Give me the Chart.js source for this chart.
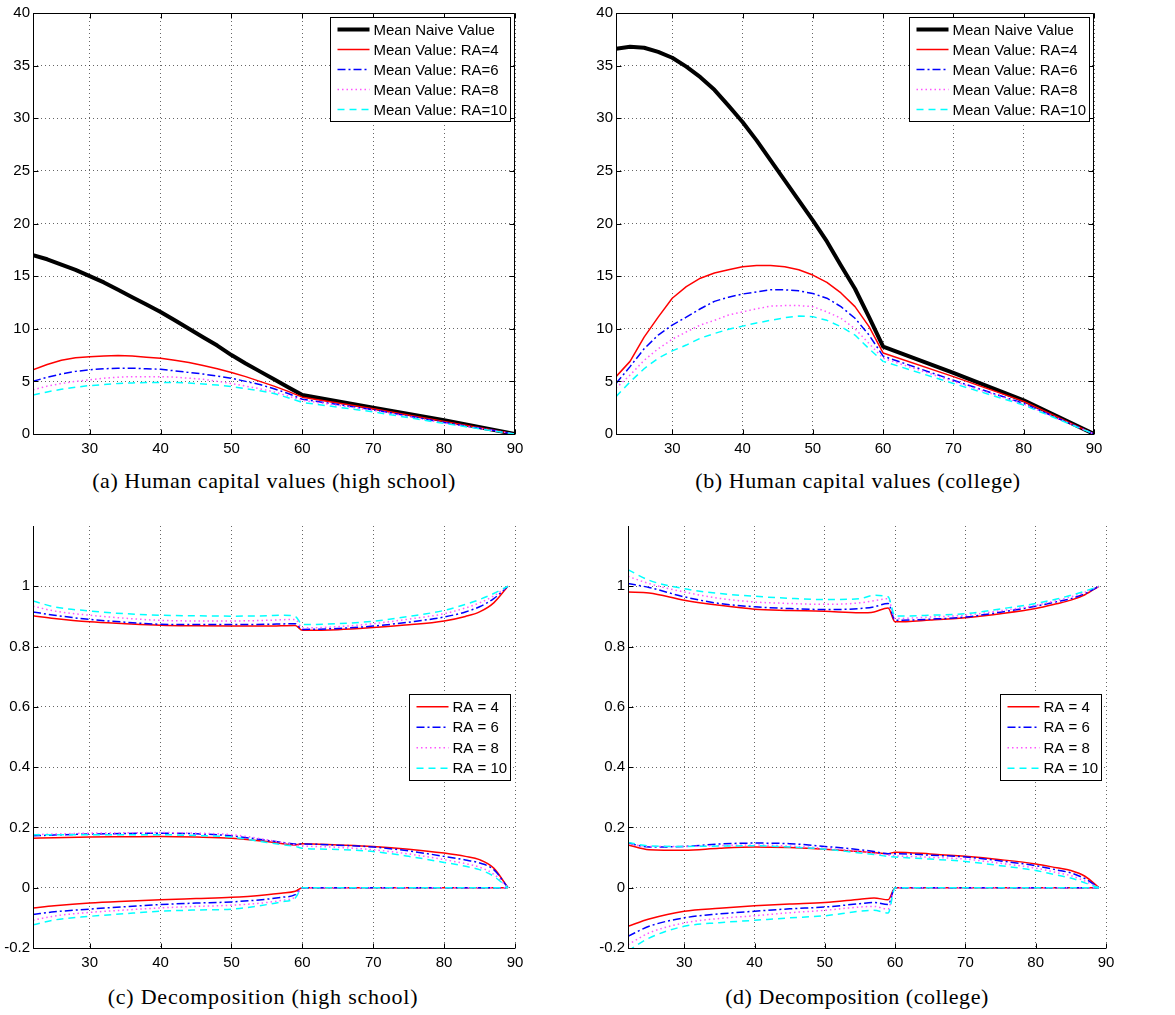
<!DOCTYPE html>
<html>
<head>
<meta charset="utf-8">
<script src="https://cdn.jsdelivr.net/npm/chart.js@4.4.1/dist/chart.umd.min.js"></script>
<style>
  body { margin: 0; background: #fff; width: 1175px; height: 1015px; position: relative; overflow: hidden; }
  canvas { position: absolute; }
  .cap { position: absolute; font-family: "Liberation Serif", "Times New Roman", serif; font-size: 22px;
         line-height: 24px; white-space: nowrap; transform: translateX(-50%); color: #000; }
</style>
</head>
<body>
<canvas id="chartA" width="545" height="460" style="left:0px;top:0px"></canvas>
<canvas id="chartB" width="550" height="460" style="left:580px;top:0px"></canvas>
<canvas id="chartC" width="545" height="480" style="left:0px;top:500px"></canvas>
<canvas id="chartD" width="550" height="480" style="left:590px;top:500px"></canvas>
<div class="cap" data-w="363" style="left:274px;top:469px">(a) Human capital values (high school)</div>
<div class="cap" data-w="325" style="left:858px;top:469px">(b) Human capital values (college)</div>
<div class="cap" data-w="310" style="left:263px;top:985px">(c) Decomposition (high school)</div>
<div class="cap" data-w="263" style="left:857px;top:985px">(d) Decomposition (college)</div>
<script>
// ages and tick labels
var agesValue = [22,24,26,28,30,32,34,36,38,40,42,44,46,48,50,52,54,56,58,60,70,80,90]
var agesDecomp = [22,25,30,35,40,45,50,55,57,59,60,65,70,75,80,83,85,87,89]
var xTicks = [30,40,50,60,70,80,90]
var valueTicks = [0,5,10,15,20,25,30,35,40]
var decompTicks = [-0.2,0,0.2,0.4,0.6,0.8,1]

// (a) high school values
var hsNaive = [17.0,16.6,16.1,15.6,15.0,14.4,13.7,13.0,12.3,11.6,10.8,10.0,9.2,8.4,7.5,6.7,5.95,5.2,4.45,3.7,2.5,1.3,0]
var hsRA4 = [6.1,6.6,7.0,7.25,7.35,7.42,7.45,7.4,7.3,7.2,7.0,6.8,6.5,6.2,5.85,5.45,5.0,4.55,4.05,3.5,2.4,1.2,0]
var hsRA6 = [5.0,5.4,5.7,5.95,6.1,6.2,6.25,6.25,6.2,6.15,6.0,5.85,5.7,5.5,5.3,5.0,4.7,4.3,3.85,3.3,2.3,1.1,0]
var hsRA8 = [4.2,4.55,4.8,5.0,5.15,5.3,5.4,5.45,5.45,5.45,5.4,5.3,5.2,5.0,4.8,4.55,4.3,4.0,3.6,3.2,2.25,1.05,0]
var hsRA10 = [3.7,4.0,4.25,4.45,4.6,4.7,4.8,4.85,4.9,4.9,4.9,4.85,4.75,4.65,4.5,4.3,4.1,3.85,3.45,3.0,2.1,1.0,0]

// (b) college values
var colNaive = [36.6,36.8,36.7,36.3,35.75,34.9,33.9,32.7,31.2,29.65,27.9,26.0,24.1,22.2,20.3,18.3,16.0,13.8,11.1,8.3,5.8,3.2,0]
var colRA4 = [5.45,6.9,9.2,11.1,12.9,14.0,14.8,15.3,15.6,15.9,16.0,16.0,15.9,15.6,15.1,14.4,13.4,12.1,10.2,7.7,5.45,3.1,0]
var colRA6 = [4.8,6.4,8.1,9.4,10.35,11.1,11.9,12.6,13.0,13.3,13.5,13.7,13.7,13.6,13.35,12.9,12.1,11.0,9.4,7.4,5.1,2.9,0]
var colRA8 = [4.35,5.6,7.0,8.1,9.0,9.7,10.35,10.8,11.3,11.6,11.9,12.15,12.2,12.2,12.1,11.6,11.0,10.0,8.6,7.2,5.0,2.85,0]
var colRA10 = [3.55,4.95,6.2,7.2,7.9,8.45,9.1,9.55,9.95,10.25,10.55,10.8,11.05,11.2,11.15,10.8,10.2,9.4,8.1,6.9,4.8,2.75,0]

// (c) high school decomposition: top, middle, low parts
var hsTop4 = [0.902,0.893,0.882,0.876,0.871,0.869,0.868,0.868,0.869,0.870,0.854,0.856,0.863,0.872,0.885,0.900,0.915,0.945,1.0]
var hsTop6 = [0.915,0.904,0.890,0.881,0.874,0.873,0.873,0.874,0.875,0.876,0.857,0.860,0.868,0.881,0.898,0.915,0.932,0.959,1.0]
var hsTop8 = [0.934,0.918,0.904,0.894,0.887,0.885,0.885,0.887,0.889,0.890,0.862,0.866,0.876,0.891,0.909,0.928,0.945,0.968,1.0]
var hsTop10 = [0.951,0.932,0.918,0.909,0.904,0.902,0.901,0.902,0.904,0.900,0.873,0.876,0.884,0.900,0.920,0.940,0.956,0.976,1.0]
var hsMid4 = [0.164,0.166,0.168,0.169,0.170,0.168,0.164,0.153,0.147,0.142,0.146,0.142,0.137,0.128,0.115,0.104,0.093,0.065,0]
var hsMid6 = [0.172,0.175,0.178,0.180,0.181,0.179,0.172,0.157,0.151,0.145,0.145,0.141,0.135,0.122,0.104,0.092,0.082,0.060,0]
var hsMid8 = [0.176,0.178,0.181,0.182,0.183,0.181,0.176,0.159,0.150,0.142,0.139,0.134,0.126,0.112,0.093,0.080,0.068,0.045,0]
var hsMid10 = [0.176,0.176,0.176,0.176,0.176,0.173,0.168,0.150,0.143,0.137,0.131,0.127,0.120,0.104,0.084,0.071,0.060,0.038,0]
var hsLow4 = [-0.067,-0.060,-0.051,-0.045,-0.040,-0.036,-0.032,-0.023,-0.018,-0.012,0,0,0,0,0,0,0,0,0]
var hsLow6 = [-0.089,-0.080,-0.071,-0.063,-0.056,-0.051,-0.047,-0.038,-0.032,-0.023,0,0,0,0,0,0,0,0,0]
var hsLow8 = [-0.108,-0.094,-0.082,-0.074,-0.067,-0.062,-0.058,-0.049,-0.042,-0.031,0,0,0,0,0,0,0,0,0]
var hsLow10 = [-0.123,-0.107,-0.095,-0.086,-0.078,-0.074,-0.071,-0.056,-0.047,-0.034,0,0,0,0,0,0,0,0,0]

// (d) college decomposition
var colTop4 = [0.981,0.978,0.954,0.937,0.924,0.920,0.917,0.912,0.915,0.928,0.882,0.888,0.896,0.909,0.926,0.942,0.954,0.972,1.0]
var colTop6 = [1.009,0.996,0.965,0.943,0.932,0.926,0.923,0.926,0.932,0.943,0.887,0.891,0.898,0.914,0.934,0.949,0.959,0.976,1.0]
var colTop8 = [1.033,1.009,0.981,0.960,0.948,0.943,0.940,0.945,0.952,0.959,0.893,0.898,0.904,0.919,0.937,0.953,0.965,0.980,1.0]
var colTop10 = [1.055,1.020,0.992,0.976,0.967,0.960,0.956,0.959,0.970,0.965,0.901,0.904,0.909,0.925,0.943,0.958,0.970,0.984,1.0]
var colMid4 = [0.142,0.126,0.124,0.131,0.135,0.133,0.128,0.120,0.116,0.113,0.118,0.112,0.104,0.093,0.079,0.066,0.057,0.038,0]
var colMid6 = [0.148,0.135,0.137,0.145,0.148,0.146,0.137,0.126,0.120,0.113,0.113,0.108,0.102,0.089,0.073,0.059,0.049,0.030,0]
var colMid8 = [0.146,0.137,0.137,0.140,0.142,0.138,0.131,0.120,0.114,0.108,0.106,0.101,0.095,0.081,0.065,0.050,0.040,0.022,0]
var colMid10 = [0.150,0.139,0.137,0.138,0.139,0.135,0.128,0.115,0.110,0.104,0.102,0.095,0.087,0.073,0.057,0.042,0.032,0.016,0]
var colLow4 = [-0.128,-0.104,-0.078,-0.068,-0.060,-0.054,-0.049,-0.038,-0.034,-0.040,0,0,0,0,0,0,0,0,0]
var colLow6 = [-0.161,-0.128,-0.100,-0.087,-0.078,-0.070,-0.064,-0.053,-0.049,-0.056,0,0,0,0,0,0,0,0,0]
var colLow8 = [-0.189,-0.150,-0.117,-0.102,-0.093,-0.083,-0.075,-0.064,-0.062,-0.071,0,0,0,0,0,0,0,0,0]
var colLow10 = [-0.210,-0.167,-0.128,-0.116,-0.108,-0.100,-0.093,-0.078,-0.075,-0.084,0,0,0,0,0,0,0,0,0]

var FONT = '"Liberation Sans", Arial, sans-serif'

// line styles, MATLAB-like
var styles = {
  naive: { color: '#000000', width: 4, dash: [] },
  ra4: { color: '#ff0000', width: 1.5, dash: [] },
  ra6: { color: '#0000ff', width: 1.5, dash: [8, 3, 2, 3] },
  ra8: { color: '#ff55ff', width: 1.5, dash: [1.5, 3] },
  ra10: { color: '#00ffff', width: 1.5, dash: [7, 5] }
}

function line(label, xs, ys, st, order, smooth) {
  var ds = {
    legendLabel: label,
    data: xs.map(function(x, i) { return { x: x, y: ys[i] } }),
    borderColor: st.color,
    borderWidth: st.width,
    borderDash: st.dash,
    borderJoinStyle: 'round',
    pointRadius: 0,
    fill: false,
    tension: 0,
    order: order
  }
  if (smooth) ds.cubicInterpolationMode = 'monotone'
  return ds
}

// box, grid ticks pointing in
var framePlugin = {
  id: 'frame',
  afterDraw: function(chart, args, opts) {
    var ctx = chart.ctx, a = chart.chartArea
    var xs = chart.scales.x, ys = chart.scales.y
    ctx.save()
    ctx.strokeStyle = '#000'
    ctx.lineWidth = 1
    ctx.setLineDash([])
    ctx.beginPath()
    var l = Math.round(a.left) + 0.5, b = Math.round(a.bottom) + 0.5
    var r = Math.round(a.right) - 0.5, t = Math.round(a.top) + 0.5
    ctx.moveTo(l, t - 0.5)
    ctx.lineTo(l, b)
    ctx.lineTo(r + 0.5, b)
    if (opts.box) {
      ctx.moveTo(r, b)
      ctx.lineTo(r, t)
      ctx.lineTo(l, t)
    }
    xs.ticks.forEach(function(tk) {
      var px = Math.round(xs.getPixelForValue(tk.value)) + 0.5
      ctx.moveTo(px, b)
      ctx.lineTo(px, b - 5)
      if (opts.box) {
        ctx.moveTo(px, t)
        ctx.lineTo(px, t + 5)
      }
    })
    ys.ticks.forEach(function(tk) {
      var py = Math.round(ys.getPixelForValue(tk.value)) + 0.5
      ctx.moveTo(l, py)
      ctx.lineTo(l + 5, py)
      if (opts.box) {
        ctx.moveTo(r, py)
        ctx.lineTo(r - 5, py)
      }
    })
    ctx.stroke()
    ctx.restore()
  }
}

// legend box inside the axes
var boxLegend = {
  id: 'boxLegend',
  afterDraw: function(chart, args, opts) {
    var ctx = chart.ctx, a = chart.chartArea
    var items = chart.data.datasets.filter(function(d) { return d.legendShow })
    ctx.save()
    ctx.font = '15px ' + FONT
    var tw = 0
    items.forEach(function(d) { tw = Math.max(tw, ctx.measureText(d.legendLabel).width) })
    var rowH = opts.rowH
    var w = Math.round(7 + 32 + 4 + tw + 3)
    var h = Math.round(items.length * rowH + 4)
    var x = Math.round(a.right - 5 - w) + 0.5
    var y = opts.place === 'ne' ? Math.round(a.top + 4) + 0.5 : Math.round((a.top + a.bottom) / 2 - h / 2) + 0.5
    ctx.fillStyle = '#fff'
    ctx.fillRect(x, y, w, h)
    ctx.strokeStyle = '#000'
    ctx.lineWidth = 1
    ctx.setLineDash([])
    ctx.strokeRect(x, y, w, h)
    items.forEach(function(d, i) {
      var cy = y + 2 + rowH * (i + 0.5)
      ctx.beginPath()
      ctx.strokeStyle = d.borderColor
      ctx.lineWidth = d.borderWidth
      ctx.setLineDash(d.borderDash)
      ctx.moveTo(x + 7, cy)
      ctx.lineTo(x + 39, cy)
      ctx.stroke()
      ctx.setLineDash([])
      ctx.fillStyle = '#000'
      ctx.textBaseline = 'middle'
      ctx.fillText(d.legendLabel, x + 43, cy + 1)
    })
    ctx.restore()
  }
}

function makeChart(id, datasets, cfg) {
  var ctx = document.getElementById(id).getContext('2d')
  return new Chart(ctx, {
    type: 'line',
    data: { datasets: datasets },
    plugins: [framePlugin, boxLegend],
    options: {
      responsive: false,
      animation: false,
      devicePixelRatio: 1,
      layout: { padding: { left: 0, right: cfg.padRight, top: cfg.padTop, bottom: 0 } },
      plugins: {
        legend: { display: false },
        tooltip: { enabled: false },
        frame: { box: cfg.box },
        boxLegend: { place: cfg.legendPlace, rowH: cfg.rowH }
      },
      scales: {
        x: {
          type: 'linear',
          min: 22,
          max: 90,
          afterBuildTicks: function(scale) { scale.ticks = xTicks.map(function(v) { return { value: v } }) },
          afterFit: function(scale) { scale.height = cfg.xAxisH },
          grid: { color: 'rgba(0,0,0,0.6)', lineWidth: 1, drawTicks: false },
          border: { display: false, dash: [1, 3] },
          ticks: { color: '#000', font: { family: FONT, size: 15 }, padding: 6, maxRotation: 0 }
        },
        y: {
          type: 'linear',
          min: cfg.yMin,
          max: cfg.yMax,
          afterBuildTicks: function(scale) { scale.ticks = cfg.yTicks.map(function(v) { return { value: v } }) },
          afterFit: function(scale) { scale.width = cfg.yAxisW },
          grid: { color: 'rgba(0,0,0,0.6)', lineWidth: 1, drawTicks: false },
          border: { display: false, dash: [1, 3] },
          ticks: {
            color: '#000', font: { family: FONT, size: 15 }, padding: 3,
            callback: function(v) { return String(Math.round(v * 10) / 10) }
          }
        }
      }
    }
  })
}

function valueSets(naive, r4, r6, r8, r10) {
  var sets = [
    line('Mean Naive Value', agesValue, naive, styles.naive, 5, false),
    line('Mean Value: RA=4', agesValue, r4, styles.ra4, 4, false),
    line('Mean Value: RA=6', agesValue, r6, styles.ra6, 3, false),
    line('Mean Value: RA=8', agesValue, r8, styles.ra8, 2, false),
    line('Mean Value: RA=10', agesValue, r10, styles.ra10, 1, false)
  ]
  sets.forEach(function(s) { s.legendShow = true })
  return sets
}

function decompSets(parts) {
  // parts: [[top, mid, low] for RA 4, 6, 8, 10]
  var keys = ['ra4', 'ra6', 'ra8', 'ra10']
  var labels = ['RA = 4', 'RA = 6', 'RA = 8', 'RA = 10']
  var sets = []
  parts.forEach(function(p, k) {
    p.forEach(function(series, j) {
      var s = line(labels[k], agesDecomp, series, styles[keys[k]], 4 - k, true)
      s.legendShow = (j === 0)
      sets.push(s)
    })
  })
  return sets
}

makeChart('chartA', valueSets(hsNaive, hsRA4, hsRA6, hsRA8, hsRA10), {
  padRight: 30, padTop: 13, xAxisH: 26, yAxisW: 33, yMin: 0, yMax: 40, yTicks: valueTicks,
  box: true, legendPlace: 'ne', rowH: 20
})
makeChart('chartB', valueSets(colNaive, colRA4, colRA6, colRA8, colRA10), {
  padRight: 36, padTop: 13, xAxisH: 26, yAxisW: 36, yMin: 0, yMax: 40, yTicks: valueTicks,
  box: true, legendPlace: 'ne', rowH: 20
})
makeChart('chartC', decompSets([
  [hsTop4, hsMid4, hsLow4], [hsTop6, hsMid6, hsLow6], [hsTop8, hsMid8, hsLow8], [hsTop10, hsMid10, hsLow10]
]), {
  padRight: 30, padTop: 26, xAxisH: 32, yAxisW: 33, yMin: -0.2, yMax: 1.2, yTicks: decompTicks,
  box: false, legendPlace: 'e', rowH: 20.5
})
makeChart('chartD', decompSets([
  [colTop4, colMid4, colLow4], [colTop6, colMid6, colLow6], [colTop8, colMid8, colLow8], [colTop10, colMid10, colLow10]
]), {
  padRight: 34, padTop: 26, xAxisH: 32, yAxisW: 38, yMin: -0.2, yMax: 1.2, yTicks: decompTicks,
  box: false, legendPlace: 'e', rowH: 20.5
})

// stretch captions to the width of the LaTeX captions
document.querySelectorAll('.cap').forEach(function(el) {
  var target = +el.getAttribute('data-w')
  var n = el.textContent.length
  var natural = el.getBoundingClientRect().width
  el.style.letterSpacing = ((target - natural) / (n - 1)).toFixed(2) + 'px'
})
</script>
</body>
</html>
